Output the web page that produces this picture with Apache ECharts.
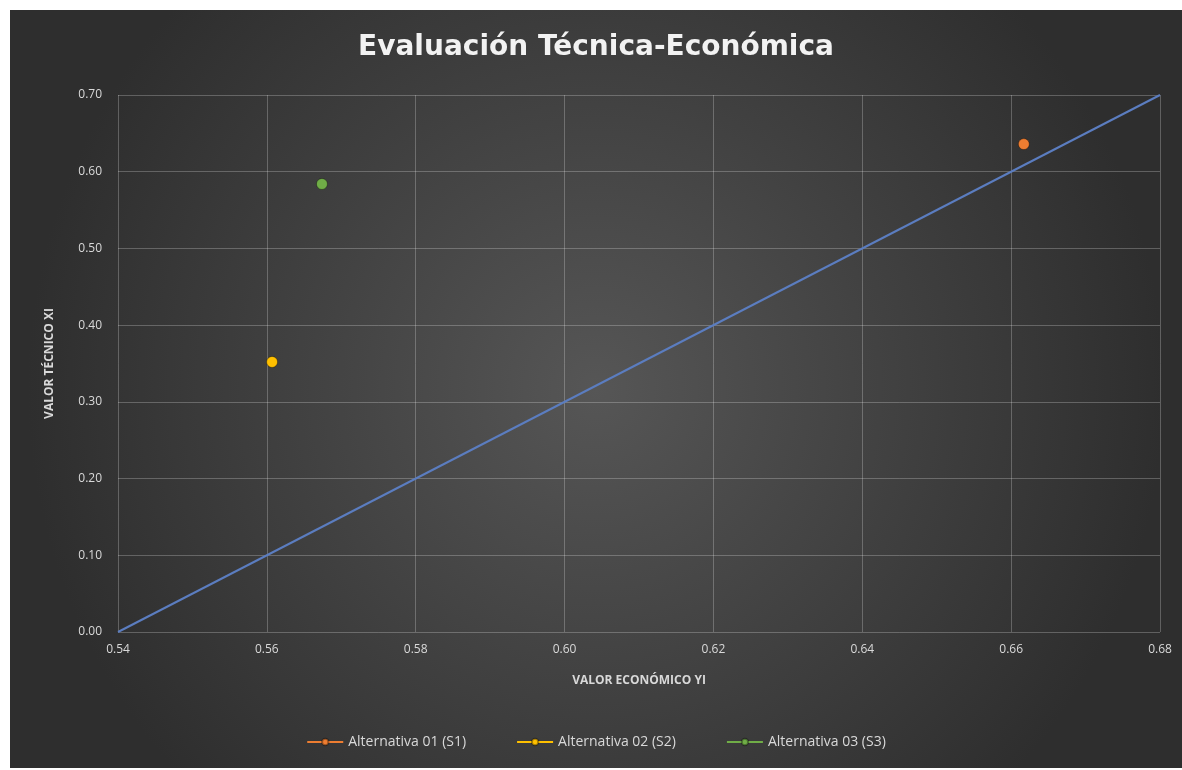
<!DOCTYPE html>
<html>
<head>
<meta charset="utf-8">
<script src="https://cdn.jsdelivr.net/npm/echarts@6/dist/echarts.min.js"></script>
<style>
  html, body { margin: 0; padding: 0; background: #ffffff; }
  #chart { position: absolute; left: 10px; top: 10px; width: 1172px; height: 758px; }
</style>
</head>
<body>
<div id="chart"></div>
<script>
// Alternatives: economic value (x) and technical value (y)
const seriesNames = ['Alternativa 01 (S1)', 'Alternativa 02 (S2)', 'Alternativa 03 (S3)'];
const economicValues = [0.6617, 0.5607, 0.5674];
const technicalValues = [0.636, 0.352, 0.584];
const seriesColors = ['#ED7D31', '#FFC000', '#70AD47'];

// Reference diagonal
const diagonalX = [0.54, 0.68];
const diagonalY = [0.00, 0.70];

const chart = echarts.init(document.getElementById('chart'));

const labelColor = '#d9d9d9';
const gridColor = 'rgba(255,255,255,0.24)';

const pointSeries = seriesNames.map((name, i) => ({
  name: name,
  type: 'line',
  data: [[economicValues[i], technicalValues[i]]],
  symbol: 'circle',
  symbolSize: 11,
  z: 5,
  itemStyle: { color: seriesColors[i], borderColor: 'rgba(0,0,0,0.35)', borderWidth: 1 },
  lineStyle: { color: seriesColors[i], width: 2 }
}));

chart.setOption({
  backgroundColor: {
    type: 'radial', x: 0.5, y: 0.5, r: 0.75,
    colorStops: [
      { offset: 0, color: '#565656' },
      { offset: 1, color: '#2e2e2e' }
    ]
  },
  title: {
    text: 'Evaluación Técnica-Económica',
    left: 'center',
    top: 19,
    textStyle: {
      fontFamily: 'DejaVu Sans',
      fontWeight: 'bold',
      fontSize: 28,
      color: '#f2f2f2'
    }
  },
  legend: {
    data: seriesNames,
    bottom: 14,
    left: 'center',
    itemWidth: 36,
    itemHeight: 8,
    itemGap: 50,
    textStyle: { color: labelColor, fontFamily: 'Open Sans', fontSize: 14 }
  },
  grid: { left: 108, right: 22, top: 85, bottom: 136 },
  xAxis: {
    type: 'value',
    min: 0.54, max: 0.68, interval: 0.02,
    name: 'VALOR ECONÓMICO YI',
    nameLocation: 'middle',
    nameGap: 43,
    nameTextStyle: { color: labelColor, fontFamily: 'Open Sans', fontSize: 12, fontWeight: 'bold' },
    axisLine: { show: false },
    axisTick: { show: false },
    axisLabel: { color: labelColor, fontFamily: 'Open Sans', fontSize: 12, margin: 12, formatter: v => v.toFixed(2) },
    splitLine: { show: true, lineStyle: { color: gridColor, width: 1 } }
  },
  yAxis: {
    type: 'value',
    min: 0, max: 0.7, interval: 0.1,
    name: 'VALOR TÉCNICO XI',
    nameLocation: 'middle',
    nameGap: 62,
    nameTextStyle: { color: labelColor, fontFamily: 'Open Sans', fontSize: 12, fontWeight: 'bold' },
    axisLine: { show: false },
    axisTick: { show: false },
    axisLabel: { color: labelColor, fontFamily: 'Open Sans', fontSize: 12, margin: 16, formatter: v => v.toFixed(2) },
    splitLine: { show: true, lineStyle: { color: gridColor, width: 1 } }
  },
  series: [
    {
      name: 'Diagonal',
      type: 'line',
      data: diagonalX.map((x, i) => [x, diagonalY[i]]),
      symbol: 'none',
      silent: true,
      z: 3,
      lineStyle: { color: '#5B7DC0', width: 2 }
    }
  ].concat(pointSeries)
});
</script>
</body>
</html>
